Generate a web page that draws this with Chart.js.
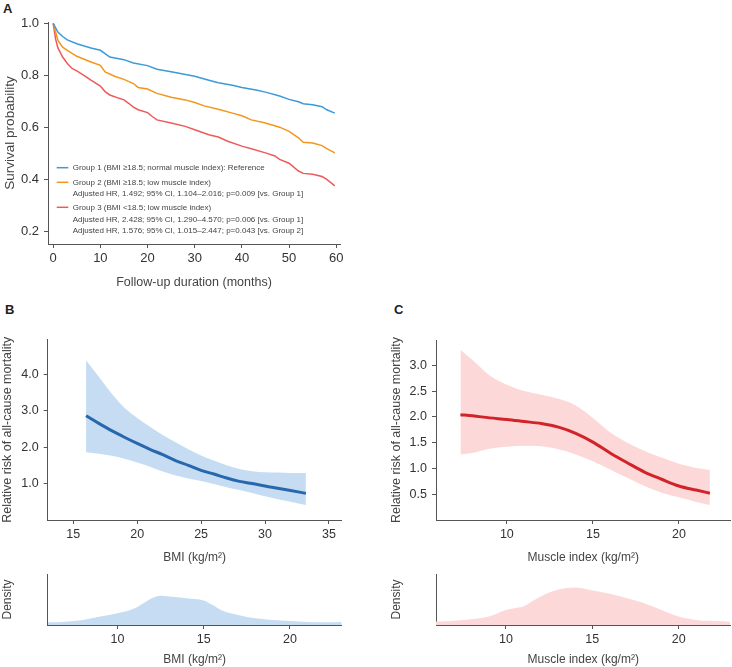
<!DOCTYPE html>
<html><head><meta charset="utf-8">
<script src="https://cdn.jsdelivr.net/npm/chart.js@4/dist/chart.umd.min.js"></script>
<style>
html,body{margin:0;padding:0;background:#fff;}
body{width:732px;height:667px;position:relative;overflow:hidden;font-family:"Liberation Sans",Arial,sans-serif;}
.pl{position:absolute;font-weight:bold;font-size:13px;color:#222;}
.cv{position:absolute;}
</style></head><body>
<div class="pl" style="left:3px;top:1px;">A</div>
<div class="pl" style="left:5px;top:302px;">B</div>
<div class="pl" style="left:394px;top:302px;">C</div>
<canvas id="cA" class="cv" width="350" height="290" style="left:0;top:0;"></canvas>
<canvas id="cB" class="cv" width="350" height="245" style="left:0;top:320px;"></canvas>
<canvas id="cC" class="cv" width="347" height="245" style="left:385px;top:320px;"></canvas>
<canvas id="cBd" class="cv" width="350" height="103" style="left:0;top:564px;"></canvas>
<canvas id="cCd" class="cv" width="347" height="103" style="left:385px;top:564px;"></canvas>
<script>
// ---------- Panel A: Kaplan-Meier survival ----------
const kmXTicks = [0, 10, 20, 30, 40, 50, 60];
const kmYTicks = [0.2, 0.4, 0.6, 0.8, 1.0];
const groupLabels = [
  'Group 1 (BMI \u226518.5; normal muscle index): Reference',
  'Group 2 (BMI \u226518.5; low muscle index)',
  'Group 3 (BMI <18.5; low muscle index)'
];
const group2Notes = ['Adjusted HR, 1.492; 95% CI, 1.104\u20132.016; p=0.009 [vs. Group 1]'];
const group3Notes = [
  'Adjusted HR, 2.428; 95% CI, 1.290\u20134.570; p=0.006 [vs. Group 1]',
  'Adjusted HR, 1.576; 95% CI, 1.015\u20132.447; p=0.043 [vs. Group 2]'
];
const g1Time = [0,1,2,3,5,8,10,12,15,17,20,22,25,30,33,35,38,40,43,45,48,50,52,53,55,57,58,59.7];
const g1Surv = [1.0,.966,.949,.936,.921,.905,.896,.870,.860,.847,.837,.823,.813,.796,.781,.771,.761,.753,.743,.735,.720,.707,.698,.690,.686,.679,.667,.654];
const g2Time = [0,1,2,3,5,8,10,11,13,15,17,18,20,22,25,28,30,32,35,38,40,42,45,48,50,52,53,55,57,58,59.7];
const g2Surv = [1.0,.934,.908,.896,.873,.851,.838,.813,.796,.784,.768,.753,.747,.730,.715,.705,.695,.682,.669,.654,.644,.628,.616,.600,.584,.559,.542,.539,.529,.517,.501];
const g3Time = [0,0.5,1,2,3,4,5,7,8,10,11,12,14,15,16,17,18,20,21,22,25,28,30,33,35,37,40,42,45,47,48,50,52,53,55,57,58,59.7];
const g3Surv = [1.0,.94,.905,.870,.845,.826,.817,.794,.781,.758,.737,.724,.711,.705,.692,.677,.667,.656,.641,.628,.616,.603,.590,.571,.562,.546,.527,.517,.501,.489,.476,.461,.431,.422,.419,.410,.399,.374];

// ---------- Panel B: BMI spline ----------
const bmiXTicks = [15, 20, 25, 30, 35];
const bmiYTicks = [1, 2, 3, 4];
const bmiX     = [16,17,18,19,20,21,22,23,24,25,26,27,28,29,30,31,32,33.2];
const bmiRR    = [2.86,2.65,2.45,2.27,2.10,1.94,1.79,1.63,1.50,1.36,1.26,1.15,1.06,1.00,0.93,0.87,0.81,0.73];
const bmiUpper = [4.38,3.93,3.47,3.08,2.80,2.56,2.33,2.13,1.94,1.77,1.63,1.50,1.40,1.34,1.31,1.30,1.29,1.29];
const bmiLower = [1.86,1.82,1.76,1.68,1.58,1.46,1.33,1.22,1.14,1.07,0.99,0.90,0.82,0.74,0.65,0.57,0.50,0.41];

// ---------- Panel C: Muscle index spline ----------
const miXTicks = [10, 15, 20];
const miYTicks = [0.5, 1.0, 1.5, 2.0, 2.5, 3.0];
const miX     = [7.3,8,9,10,11,12,13,14,15,16,17,18,19,20,21,21.8];
const miRR    = [2.04,2.02,1.98,1.95,1.91,1.87,1.80,1.68,1.51,1.30,1.11,0.93,0.79,0.66,0.58,0.52];
const miUpper = [3.30,3.10,2.80,2.62,2.50,2.43,2.35,2.22,1.98,1.70,1.50,1.34,1.21,1.09,1.01,0.97];
const miLower = [1.27,1.30,1.38,1.42,1.44,1.43,1.37,1.27,1.14,0.98,0.82,0.66,0.53,0.44,0.35,0.29];

// ---------- Density strips ----------
const densXTicks = [10, 15, 20];
const densBX = [5.95,7,8,9,10,11,11.5,12,12.5,13,14,15,15.5,16,17,18,19,20,21,22,23];
const densBY = [.008,.010,.015,.025,.035,.050,.065,.080,.087,.085,.080,.073,.060,.045,.030,.020,.015,.012,.009,.008,.009];
const densCX = [5.9,7,8,9,10,10.5,11,11.5,12,13,14,15,16,17,18,19,20,21,22,23];
const densCY = [.010,.013,.017,.025,.045,.050,.055,.070,.085,.105,.112,.103,.093,.080,.065,.045,.025,.015,.012,.010];

const FONT = '"Liberation Sans", Arial, sans-serif';
const AX = '#555';
const TXT = '#333';
const zip = (xs, ys) => xs.map((x, i) => ({x: x, y: ys[i]}));

function xScale(min, max, tickVals, title, h, titlePad, tickFont, titleFont) {
  return {
    type: 'linear', position: 'bottom', min: min, max: max,
    afterBuildTicks: s => { s.ticks = tickVals.map(v => ({value: v})); },
    afterFit: s => { s.height = h; },
    ticks: {color: TXT, font: {family: FONT, size: tickFont}, padding: 3, maxRotation: 0, autoSkip: false,
            callback: v => String(v)},
    grid: {drawOnChartArea: false, drawTicks: true, tickLength: 4, color: AX},
    border: {display: true, color: AX, width: 1},
    title: {display: true, text: title, color: '#444', font: {family: FONT, size: titleFont}, padding: {top: titlePad, bottom: 0}}
  };
}
function yScale(min, max, tickVals, title, w, titlePad, tickFont, titleFont, showTicks) {
  return {
    type: 'linear', position: 'left', min: min, max: max,
    afterBuildTicks: s => { s.ticks = tickVals.map(v => ({value: v})); },
    afterFit: s => { s.width = w; },
    ticks: {display: showTicks, color: TXT, font: {family: FONT, size: tickFont}, padding: 5,
            callback: v => Number(v).toFixed(1)},
    grid: {drawOnChartArea: false, drawTicks: showTicks, tickLength: 4, color: AX},
    border: {display: true, color: AX, width: 1},
    title: {display: true, text: title, color: '#444', font: {family: FONT, size: titleFont}, padding: {top: titlePad, bottom: 0}}
  };
}
const baseOpts = (padding) => ({
  responsive: false, animation: false, devicePixelRatio: 1,
  layout: {padding: padding},
  plugins: {legend: {display: false}, tooltip: {enabled: false}},
  elements: {point: {radius: 0}}
});

// Panel A legend plugin
const legendA = {
  id: 'legendA',
  afterDraw(chart) {
    const ctx = chart.ctx;
    ctx.save();
    ctx.font = '8px ' + FONT;
    ctx.fillStyle = '#444';
    ctx.textBaseline = 'middle';
    const rows = [
      {c: '#3d9ad8', t: groupLabels[0], y: 167.7},
      {c: '#f2961d', t: groupLabels[1], y: 182.3},
      {c: null, t: group2Notes[0], y: 193.8},
      {c: '#ee5a5a', t: groupLabels[2], y: 207.3},
      {c: null, t: group3Notes[0], y: 219.3},
      {c: null, t: group3Notes[1], y: 230.3}
    ];
    rows.forEach(r => {
      if (r.c) {
        ctx.strokeStyle = r.c; ctx.lineWidth = 1.5;
        ctx.beginPath(); ctx.moveTo(56.7, r.y); ctx.lineTo(68.3, r.y); ctx.stroke();
      }
      ctx.fillText(r.t, 72.7, r.y);
    });
    ctx.restore();
  }
};

const kmDs = (label, xs, ys, color) => ({label: label, data: zip(xs, ys), borderColor: color, borderWidth: 1.5,
  fill: false, tension: 0, pointRadius: 0});

new Chart(document.getElementById('cA'), {
  type: 'line',
  data: {datasets: [
    kmDs(groupLabels[0], g1Time, g1Surv, '#3d9ad8'),
    kmDs(groupLabels[1], g2Time, g2Surv, '#f2961d'),
    kmDs(groupLabels[2], g3Time, g3Surv, '#ee5a5a')
  ]},
  options: Object.assign(baseOpts({top: 22, right: 10, left: 0, bottom: 0}), {
    scales: {
      x: xScale(-1.1, 60.8, kmXTicks, 'Follow-up duration (months)', 46, 5, 13, 12.5),
      y: yScale(0.15, 1.005, kmYTicks, 'Survival probability', 48, 2, 13, 13.5, true)
    }
  }),
  plugins: [legendA]
});

function splineChart(id, xs, rr, up, lo, lineColor, bandColor, xr, yr, xt, yt, xTitle, yw, yTitlePad, padding) {
  new Chart(document.getElementById(id), {
    type: 'line',
    data: {datasets: [
      {label: 'Relative risk', data: zip(xs, rr), borderColor: lineColor, borderWidth: 3, fill: false,
       cubicInterpolationMode: 'monotone', pointRadius: 0},
      {label: 'Upper 95% CI', data: zip(xs, up), borderWidth: 0, borderColor: 'rgba(0,0,0,0)', backgroundColor: bandColor,
       fill: '+1', cubicInterpolationMode: 'monotone', pointRadius: 0},
      {label: 'Lower 95% CI', data: zip(xs, lo), borderWidth: 0, borderColor: 'rgba(0,0,0,0)', fill: false,
       cubicInterpolationMode: 'monotone', pointRadius: 0}
    ]},
    options: Object.assign(baseOpts(padding), {
      scales: {
        x: xScale(xr[0], xr[1], xt, xTitle, 45, 3, 12.5, 12),
        y: yScale(yr[0], yr[1], yt, 'Relative risk of all-cause mortality', yw, yTitlePad, 12.5, 12.5, true)
      }
    })
  });
}
splineChart('cB', bmiX, bmiRR, bmiUpper, bmiLower, '#2767ad', '#c6dcf3', [13.0, 36.0], [0, 4.95],
  bmiXTicks, bmiYTicks, 'BMI (kg/m\u00b2)', 47.7, 0.5, {top: 19.5, right: 8.3, left: 0, bottom: 0});
splineChart('cC', miX, miRR, miUpper, miLower, '#d2232a', '#fcd8d8', [5.88, 23.0], [0, 3.49],
  miXTicks, miYTicks, 'Muscle index (kg/m\u00b2)', 51, 4.2, {top: 20, right: 1.5, left: 0, bottom: 0});

function densChart(id, xs, ys, color, xTitle, yw, yTitlePad, padding) {
  new Chart(document.getElementById(id), {
    type: 'line',
    data: {datasets: [
      {label: 'Density', data: zip(xs, ys), borderWidth: 0, borderColor: 'rgba(0,0,0,0)', backgroundColor: color,
       fill: 'origin', cubicInterpolationMode: 'monotone', pointRadius: 0}
    ]},
    options: Object.assign(baseOpts(padding), {
      scales: {
        x: xScale(5.95, 23.0, densXTicks, xTitle, 42, 2.1, 12.5, 12),
        y: yScale(0, 0.152, [], 'Density', yw, yTitlePad, 12, 12, false)
      }
    })
  });
}
densChart('cBd', densBX, densBY, '#c6dcf3', 'BMI (kg/m\u00b2)', 47.7, 0.8, {top: 10, right: 8.3, left: 0, bottom: 0});
densChart('cCd', densCX, densCY, '#fcd8d8', 'Muscle index (kg/m\u00b2)', 51, 4.5, {top: 10, right: 1.5, left: 0, bottom: 0});
</script>
</body></html>
